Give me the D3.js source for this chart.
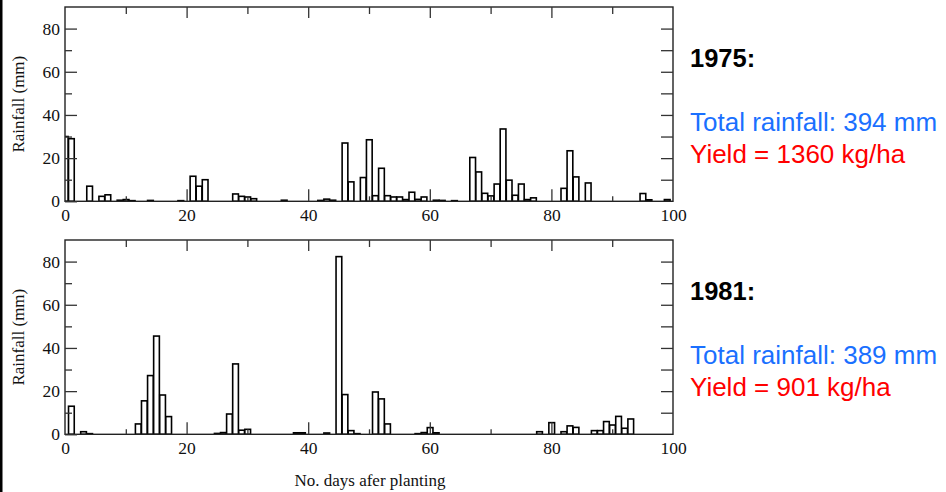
<!DOCTYPE html>
<html>
<head>
<meta charset="utf-8">
<script src="https://cdn.jsdelivr.net/npm/d3@7"></script>
<style>
  html, body { margin: 0; padding: 0; background: #fff; }
  svg { display: block; }
</style>
</head>
<body>
<svg id="chart" width="946" height="492"></svg>
<script>
// Daily rainfall (mm) by day after planting, two seasons
const days1975 = [0,1,4,6,7,9,10,11,14,19,21,22,23,28,29,30,31,36,42,43,44,46,47,49,50,51,52,53,54,55,56,57,58,59,61,62,64,67,68,69,70,71,72,73,74,75,76,77,82,83,84,86,95,96,99];
const rain1975 = [30,29,7,2.3,3,0.5,0.8,0.3,0.4,0.3,11.6,7,10,3.4,2.3,2,1.2,0.5,0.4,1,0.5,27,9,11,28.5,2.6,15.3,2.6,2,2,0.8,4.2,0.9,2,0.5,0.4,0.3,20.3,13.6,3.7,2.5,8,33.5,9.8,2.8,8,0.8,1.6,6,23.4,11.3,8.5,3.6,0.7,0.8];

const days1981 = [1,3,4,12,13,14,15,16,17,25,26,27,28,29,30,38,39,43,45,46,47,48,51,52,53,58,59,60,61,78,80,82,83,84,87,88,89,90,91,92,93];
const rain1981 = [13,1.2,0.3,4.8,15.5,27.2,45.5,18.2,8.2,0.4,0.8,9.4,32.6,1.9,2.3,0.7,0.7,0.6,82.3,18.4,1.7,0.3,19.6,16.4,4.8,0.3,0.8,3.1,0.7,1.2,5.4,1.2,3.9,3.2,1.7,1.7,5.9,4.3,8.3,2.8,7.1];

const xTicks = [0, 20, 40, 60, 80, 100];
const yTicks = [0, 20, 40, 60, 80];

const seasons = [
  { year: "1975:", total: "Total rainfall: 394 mm", yieldText: "Yield = 1360 kg/ha", days: days1975, rain: rain1975 },
  { year: "1981:", total: "Total rainfall: 389 mm", yieldText: "Yield = 901 kg/ha", days: days1981, rain: rain1981 }
];

const svg = d3.select("#chart");
const serif = "'Liberation Serif', 'DejaVu Serif', serif";
const sans = "'Liberation Sans', Arial, sans-serif";

// thin black rule on the left edge
svg.append("rect").attr("x", 0).attr("y", 0).attr("width", 2.5).attr("height", 492).attr("fill", "#000");

const left = 65, right = 673, panelTop = [7, 240], panelH = 194.3;
const x = d3.scaleLinear().domain([0, 100]).range([left, right]);

seasons.forEach((s, i) => {
  const top = panelTop[i], bottom = top + panelH;
  const y = d3.scaleLinear().domain([0, 90]).range([bottom, top]);
  const g = svg.append("g");

  g.append("clipPath").attr("id", "clip" + i)
    .append("rect").attr("x", left).attr("y", top).attr("width", right - left).attr("height", panelH);

  // bars
  const data = s.days.map((d, k) => ({ day: d, value: s.rain[k] }));
  g.append("g").attr("clip-path", `url(#clip${i})`)
    .selectAll("rect").data(data).join("rect")
    .attr("x", d => x(d.day - 0.42))
    .attr("width", d => x(d.day + 0.52) - x(d.day - 0.42))
    .attr("y", d => y(d.value))
    .attr("height", d => y(0) - y(d.value))
    .attr("fill", "#fff")
    .attr("stroke", "#000")
    .attr("stroke-width", 1.6);

  // frame
  g.append("rect").attr("x", left).attr("y", top).attr("width", right - left).attr("height", panelH)
    .attr("fill", "none").attr("stroke", "#222").attr("stroke-width", 1.4);

  const tickColor = "#333";
  // left axis: inward ticks, long at labelled values, short between
  const leftAxis = d3.axisLeft(y).tickValues(yTicks).tickSize(-12).tickPadding(17).tickFormat(d3.format("d"));
  const ga = g.append("g").attr("transform", `translate(${left},0)`).call(leftAxis);
  ga.select(".domain").remove();
  ga.selectAll(".tick line").attr("stroke", tickColor).attr("stroke-width", 1.3);
  ga.selectAll(".tick text").attr("font-family", serif).attr("font-size", 17.5).attr("fill", "#111").attr("x", -5);
  const gaMinor = d3.axisLeft(y).tickValues([10, 30, 50, 70]).tickSize(-7).tickFormat("");
  const gm = g.append("g").attr("transform", `translate(${left},0)`).call(gaMinor);
  gm.select(".domain").remove();
  gm.selectAll(".tick line").attr("stroke", tickColor).attr("stroke-width", 1.3);

  // right axis: inward ticks every 10
  const rightAxis = d3.axisRight(y).tickValues([10, 20, 30, 40, 50, 60, 70, 80]).tickSize(-12).tickFormat("");
  const gr = g.append("g").attr("transform", `translate(${right},0)`).call(rightAxis);
  gr.select(".domain").remove();
  gr.selectAll(".tick line").attr("stroke", tickColor).attr("stroke-width", 1.3);

  // top axis
  const topMajor = d3.axisTop(x).tickValues([20, 40, 60, 80]).tickSize(-11).tickFormat("");
  const gt = g.append("g").attr("transform", `translate(0,${top})`).call(topMajor);
  gt.select(".domain").remove();
  gt.selectAll(".tick line").attr("stroke", tickColor).attr("stroke-width", 1.3);
  const topMinor = d3.axisTop(x).tickValues([10, 30, 50, 70, 90]).tickSize(-7).tickFormat("");
  const gt2 = g.append("g").attr("transform", `translate(0,${top})`).call(topMinor);
  gt2.select(".domain").remove();
  gt2.selectAll(".tick line").attr("stroke", tickColor).attr("stroke-width", 1.3);

  // bottom axis
  const bottomAxis = d3.axisBottom(x).tickValues(xTicks).tickSize(-12).tickPadding(19).tickFormat(d3.format("d"));
  const gb = g.append("g").attr("transform", `translate(0,${bottom})`).call(bottomAxis);
  gb.select(".domain").remove();
  gb.selectAll(".tick line").attr("stroke", tickColor).attr("stroke-width", 1.3)
    .attr("display", d => (d === 0 || d === 100) ? "none" : null);
  gb.selectAll(".tick text").attr("font-family", serif).attr("font-size", 17.5).attr("fill", "#111")
    .attr("y", 7).attr("dy", "0.71em");
  const bottomMinor = d3.axisBottom(x).tickValues([10, 30, 50, 70, 90]).tickSize(-5).tickFormat("");
  const gb2 = g.append("g").attr("transform", `translate(0,${bottom})`).call(bottomMinor);
  gb2.select(".domain").remove();
  gb2.selectAll(".tick line").attr("stroke", tickColor).attr("stroke-width", 1.3);

  // y label
  g.append("text")
    .attr("transform", `translate(18,${(top + bottom) / 2}) rotate(-90)`)
    .attr("text-anchor", "middle").attr("dominant-baseline", "central")
    .attr("font-family", serif).attr("font-size", 17).attr("fill", "#111")
    .text("Rainfall (mm)");

  // season annotations
  const off = top - 7;
  g.append("text").attr("x", 690).attr("y", 67 + off)
    .attr("font-family", sans).attr("font-weight", "bold").attr("font-size", 25.5).attr("fill", "#000")
    .text(s.year);
  g.append("text").attr("x", 690).attr("y", 131 + off)
    .attr("font-family", sans).attr("font-size", 26).attr("fill", "#1a70ff")
    .text(s.total);
  g.append("text").attr("x", 690).attr("y", 163 + off)
    .attr("font-family", sans).attr("font-size", 26).attr("fill", "#ff0000")
    .text(s.yieldText);
});

// shared x label
svg.append("text").attr("x", 370).attr("y", 486)
  .attr("text-anchor", "middle")
  .attr("font-family", serif).attr("font-size", 17).attr("fill", "#111")
  .text("No. days afer planting");
</script>
</body>
</html>
